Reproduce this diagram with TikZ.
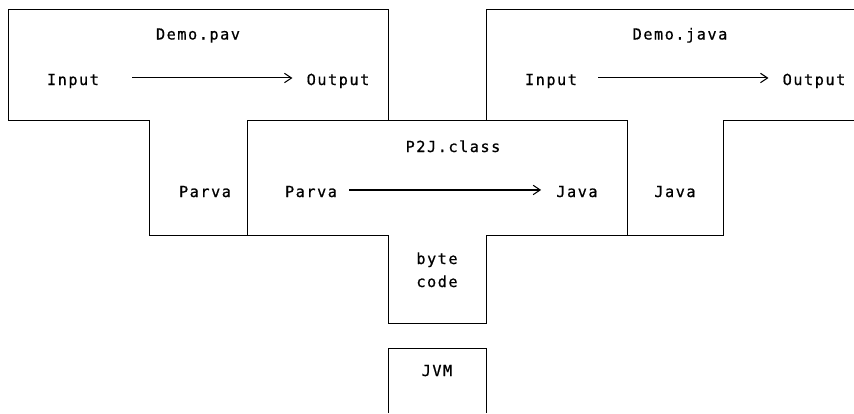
\documentclass[tikz,border=0pt]{standalone}
\usepackage{fontspec}
\newfontfamily\gridfont[LetterSpace=10,FakeBold=0.7]{DejaVu Sans Mono}
\usetikzlibrary{arrows.meta}

\begin{document}
\begin{tikzpicture}[x=0.3mm,y=-0.3mm,
    txt/.style={font=\gridfont\fontsize{13}{15}\selectfont, inner sep=0pt, text height=12pt, text depth=0pt, anchor=base},
    edge/.style={line width=0.8pt, line join=miter},
    flow/.style={-{Straight Barb[length=6pt,width=8pt]}, line width=0.9pt}]
    \useasboundingbox (0,0) rectangle (854,413);

    \draw[edge] (149,235) -- (149,120) -- (8,120) -- (8,9) -- (388,9) -- (388,120);
    \draw[edge] (247,235) -- (247,120) -- (627,120) -- (627,235);
    \draw[edge] (486,120) -- (486,9) -- (854,9);
    \draw[edge] (149,235) -- (388,235) -- (388,323) -- (486,323) -- (486,235) -- (723,235) -- (723,120) -- (854,120);
    \draw[edge] (388,413) -- (388,348) -- (486,348) -- (486,413);

    \node[txt] (pav)   at (198,39.5) {Demo.pav};
    \node[txt] (in1)   at (73,85)    {Input};
    \node[txt] (out1)  at (338,85)   {Output};

    \node[txt] (java)  at (680,39.5) {Demo.java};
    \node[txt] (in2)   at (551,85)   {Input};
    \node[txt] (out2)  at (814,85)   {Output};

    \node[txt] (p2j)   at (453,152)  {P2J.class};
    \node[txt] (src)   at (311,197)  {Parva};
    \node[txt] (dst)   at (577,197)  {Java};
    \node[txt] (lang1) at (205,197)  {Parva};
    \node[txt] (lang2) at (675,197)  {Java};

    \node[txt] (byte)  at (437,264)  {byte};
    \node[txt] (code)  at (437,287)  {code};
    \node[txt] (jvm)   at (437,376)  {JVM};

    \draw[flow, shorten <=9.9mm, shorten >=4.2mm] (in1.east) -- (out1.west);
    \draw[flow, shorten <=6.3mm, shorten >=4.2mm] (in2.east) -- (out2.west);
    \draw[flow, shorten <=3.6mm, shorten >=4.5mm] (src.east) -- (dst.west);
\end{tikzpicture}
\end{document}
